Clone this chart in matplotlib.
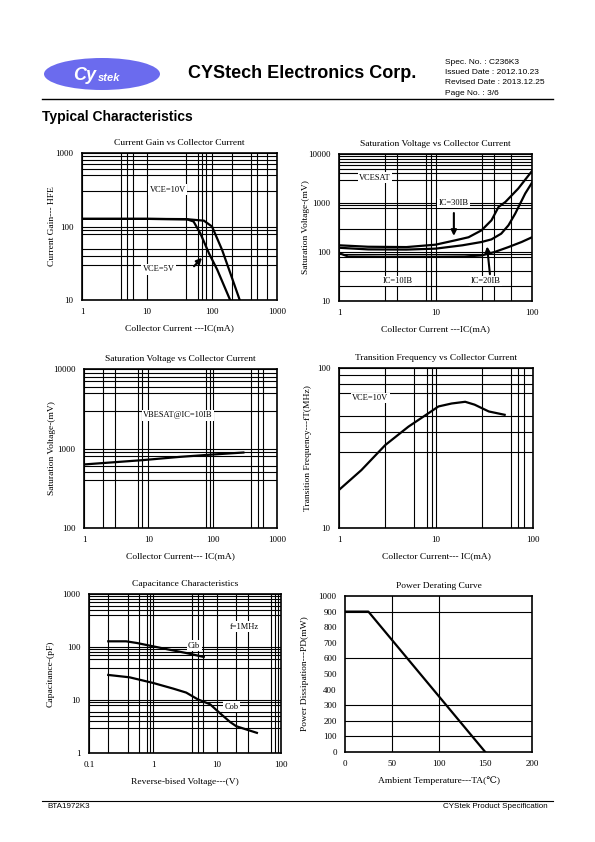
import matplotlib.pyplot as plt
import numpy as np
from matplotlib.patches import Ellipse

plt.rcParams['font.family'] = ['Liberation Serif', 'DejaVu Serif']

W, H = 595, 842

# ---- data ----
# current gain (hFE) vs Ic
hfe10_ic = [1, 10, 40, 75, 100, 143, 192, 267]
hfe10_v = [127, 127, 126, 120, 100, 48, 23, 10]
hfe5_ic = [1, 10, 41.5, 52, 66, 90, 120, 190]
hfe5_v = [127, 127, 125, 117, 81, 43, 26, 10]

# VCE(sat) vs Ic
sat30_ic = [1, 2, 5, 10, 16, 22, 30, 38, 45, 53, 72, 100]
sat30_v = [137, 128, 126, 141, 173, 200, 277, 443, 830, 1050, 1970, 4500]
sat20_ic = [1, 2, 5, 10, 19, 30, 38, 48, 57, 67, 85, 100]
sat20_v = [122, 113, 112, 117, 137, 160, 181, 237, 350, 608, 1560, 2600]
sat10_ic = [1, 1.24, 3, 10, 20, 30, 41, 57, 78, 100]
sat10_v = [95, 81, 80, 80, 81, 85, 100, 126, 160, 200]

# VBE(sat) vs Ic
vbe_ic = [1, 8, 31, 100, 300]
vbe_v = [630, 713, 785, 840, 890]

# fT vs Ic
ft_ic = [1, 1.7, 3, 5.2, 8.3, 10.6, 14.5, 20, 25, 35, 51]
ft_v = [17.3, 23, 33, 43, 52, 57.5, 60, 61.5, 59, 53.5, 51]

# capacitance vs reverse voltage
cib_vr = [0.2, 0.38, 0.56, 1, 1.8, 3.3, 6.2]
cib_c = [128, 128, 119, 103, 89, 77, 65]
cob_vr = [0.2, 0.43, 1, 2.07, 3.3, 5, 7.8, 11, 16, 20, 29.5, 42]
cob_c = [29.7, 26.8, 21, 16.4, 13.8, 10.3, 8.3, 5.7, 3.85, 3.2, 2.75, 2.4]

# power derating
pd_ta = [0, 25, 150]
pd_mw = [900, 900, 0]

fig = plt.figure(figsize=(W / 100, H / 100), dpi=100)


def px_axes(l, t, r, b):
    ax = fig.add_axes([l / W, 1 - b / H, (r - l) / W, (b - t) / H])
    ax._px = (l, r)
    return ax


def style(ax, title, xlabel, ylabel, ylab_x, xlim, ylim, xt, yt, xg, yg, log=True):
    if log:
        ax.set_xscale('log')
        ax.set_yscale('log')
    ax.set_xlim(*xlim)
    ax.set_ylim(*ylim)
    ax.set_xticks(xt)
    ax.set_xticklabels([('%g' % v) for v in xt])
    ax.set_yticks(yt)
    ax.set_yticklabels([('%g' % v) for v in yt])
    ax.set_xticks(xg, minor=True)
    ax.set_yticks(yg, minor=True)
    ax.tick_params(which='both', length=0, labelsize=6.5, pad=6)
    ax.tick_params(which='minor', labelbottom=False, labelleft=False)
    ax.grid(True, which='both', color='black', lw=0.8)
    for s in ax.spines.values():
        s.set_linewidth(1.2)
    ax.set_title(title, fontsize=6.8, pad=6)
    ax.set_xlabel(xlabel, fontsize=6.8, labelpad=6)
    ax.set_ylabel(ylabel, fontsize=6.8)
    l, r = ax._px
    ax.yaxis.set_label_coords((ylab_x + 3.5 - l) / (r - l), 0.5)


box = dict(facecolor='white', edgecolor='none', pad=1)
lw = 1.6
arrow = dict(arrowstyle='-|>', color='black', lw=1.5, mutation_scale=8)

# 1: current gain
ax = px_axes(82, 153, 277, 300)
style(ax, 'Current Gain vs Collector Current', 'Collector Current ---IC(mA)',
      'Current Gain--- HFE', 53, (1, 1000), (10, 1000), [1, 10, 100, 1000], [10, 100, 1000],
      [4, 5, 6, 40, 60, 70, 80, 200, 400, 500, 700],
      [30, 40, 50, 80, 90, 300, 500, 600, 700, 800, 900])
ax.plot(hfe10_ic, hfe10_v, color='black', lw=lw)
ax.plot(hfe5_ic, hfe5_v, color='black', lw=lw)
ax.text(21, 315, 'VCE=10V', fontsize=6, ha='center', va='center', bbox=box)
ax.text(15, 26, 'VCE=5V', fontsize=6, ha='center', va='center', bbox=box)
ax.annotate('', xy=(75, 40), xytext=(49.5, 27), arrowprops=arrow)

# 2: VCE(sat)
ax = px_axes(339, 154, 532, 301)
style(ax, 'Saturation Voltage vs Collector Current', 'Collector Current ---IC(mA)',
      'Saturation Voltage-(mV)', 307, (1, 100), (10, 10000), [1, 10, 100],
      [10, 100, 1000, 10000],
      [3, 4, 8, 9, 30, 40, 60],
      [20, 40, 80, 90, 300, 800, 900, 3000, 4000, 5000, 6000, 7000, 8000, 9000])
ax.plot(sat30_ic, sat30_v, color='black', lw=lw)
ax.plot(sat20_ic, sat20_v, color='black', lw=lw)
ax.plot(sat10_ic, sat10_v, color='black', lw=lw)
ax.text(2.35, 3300, 'VCESAT', fontsize=6, ha='center', va='center', bbox=box)
ax.text(15.5, 1000, 'IC=30IB', fontsize=6, ha='center', va='center', bbox=box)
ax.text(4.1, 25.5, 'IC=10IB', fontsize=6, ha='center', va='center', bbox=box)
ax.text(32.7, 25.5, 'IC=20IB', fontsize=6, ha='center', va='center', bbox=box)
ax.annotate('', xy=(15.5, 187), xytext=(15.5, 711), arrowprops=arrow)
ax.annotate('', xy=(34, 148), xytext=(36.9, 31), arrowprops=arrow)

# 3: VBE(sat)
ax = px_axes(84, 369, 277, 528)
style(ax, 'Saturation Voltage vs Collector Current', 'Collector Current--- IC(mA)',
      'Saturation Voltage-(mV)', 52, (1, 1000), (100, 10000), [1, 10, 100, 1000],
      [100, 1000, 10000],
      [2, 3, 7, 8, 80, 90, 400, 500, 600],
      [400, 500, 600, 800, 900, 3000, 5000, 6000, 7000, 8000, 9000])
ax.plot(vbe_ic, vbe_v, color='black', lw=lw)
ax.text(29, 2630, 'VBESAT@IC=10IB', fontsize=6, ha='center', va='center', bbox=box)

# 4: fT
ax = px_axes(339, 368, 533, 528)
style(ax, 'Transition Frequency vs Collector Current', 'Collector Current--- IC(mA)',
      'Transition Frequency---fT(MHz)', 308, (1, 100), (10, 100), [1, 10, 100], [10, 100],
      [3, 6, 8, 9, 30, 60, 70, 80],
      [30, 40, 50, 70, 80, 90])
ax.plot(ft_ic, ft_v, color='black', lw=lw)
ax.text(2.1, 65, 'VCE=10V', fontsize=6, ha='center', va='center', bbox=box)

# 5: capacitance
ax = px_axes(89, 594, 281, 753)
style(ax, 'Capacitance Characteristics', 'Reverse-bised Voltage---(V)',
      'Capacitance-(pF)', 51, (0.1, 100), (1, 1000), [0.1, 1, 10, 100], [1, 10, 100, 1000],
      [0.2, 0.4, 0.6, 0.8, 0.9, 4, 5, 6, 20, 30, 70, 80, 90],
      [3, 4, 5, 6, 8, 9, 40, 60, 70, 80, 90, 400, 500, 600, 700, 800, 900])
ax.plot(cib_vr, cib_c, color='black', lw=lw)
ax.plot(cob_vr, cob_c, color='black', lw=lw)
ax.text(26.6, 241, 'f=1MHz', fontsize=6, ha='center', va='center', bbox=box)
ax.text(4.4, 106, 'Cib', fontsize=6, ha='center', va='center', bbox=box)
ax.text(16.7, 7.5, 'Cob', fontsize=6, ha='center', va='center', bbox=box)

# 6: power derating
ax = px_axes(345, 596, 532, 752)
style(ax, 'Power Derating Curve', 'Ambient Temperature---TA(\u2103)',
      'Power Dissipation---PD(mW)', 305, (0, 200), (0, 1000), [0, 50, 100, 150, 200],
      list(range(0, 1001, 100)), [], [], log=False)
ax.grid(False)
for v in [50, 100]:
    ax.axvline(v, color='black', lw=0.8)
for v in [100, 200, 300, 600, 900]:
    ax.axhline(v, color='black', lw=0.8)
ax.plot(pd_ta, pd_mw, color='black', lw=lw)

# ---- page header / footer ----
sans = ['Liberation Sans', 'DejaVu Sans']
fig.add_artist(Ellipse((102 / W, 1 - 74 / H), 116 / W, 32 / H, angle=0,
                       transform=fig.transFigure, facecolor='#6b6bee', edgecolor='none'))
fig.text(73 / W, 1 - 76 / H, 'Cy', family=sans, fontsize=13, weight='bold', color='white',
         va='center', style='italic')
fig.text(98 / W, 1 - 78 / H, 'stek', family=sans, fontsize=8, weight='bold', color='white',
         va='center', style='italic')
fig.text(188 / W, 1 - 73 / H, 'CYStech Electronics Corp.', family=sans, fontsize=13,
         weight='bold', va='center')
spec = ['Spec. No. : C236K3', 'Issued Date : 2012.10.23', 'Revised Date : 2013.12.25',
        'Page No. : 3/6']
for i, s in enumerate(spec):
    fig.text(445 / W, 1 - (62 + 10.5 * i) / H, s, family=sans, fontsize=6, va='center')
fig.add_artist(plt.Line2D([42 / W, 553 / W], [1 - 99 / H, 1 - 99 / H], color='black', lw=1))
fig.text(42 / W, 1 - 117 / H, 'Typical Characteristics', family=sans, fontsize=10,
         weight='bold', va='center')

fig.add_artist(plt.Line2D([42 / W, 553 / W], [1 - 801 / H, 1 - 801 / H], color='black', lw=0.8))
fig.text(47 / W, 1 - 806 / H, 'BTA1972K3', family=sans, fontsize=5.8, va='center')
fig.text(548 / W, 1 - 806 / H, 'CYStek Product Specification', family=sans, fontsize=5.8,
         va='center', ha='right')

fig.savefig('out.png', dpi=100)
